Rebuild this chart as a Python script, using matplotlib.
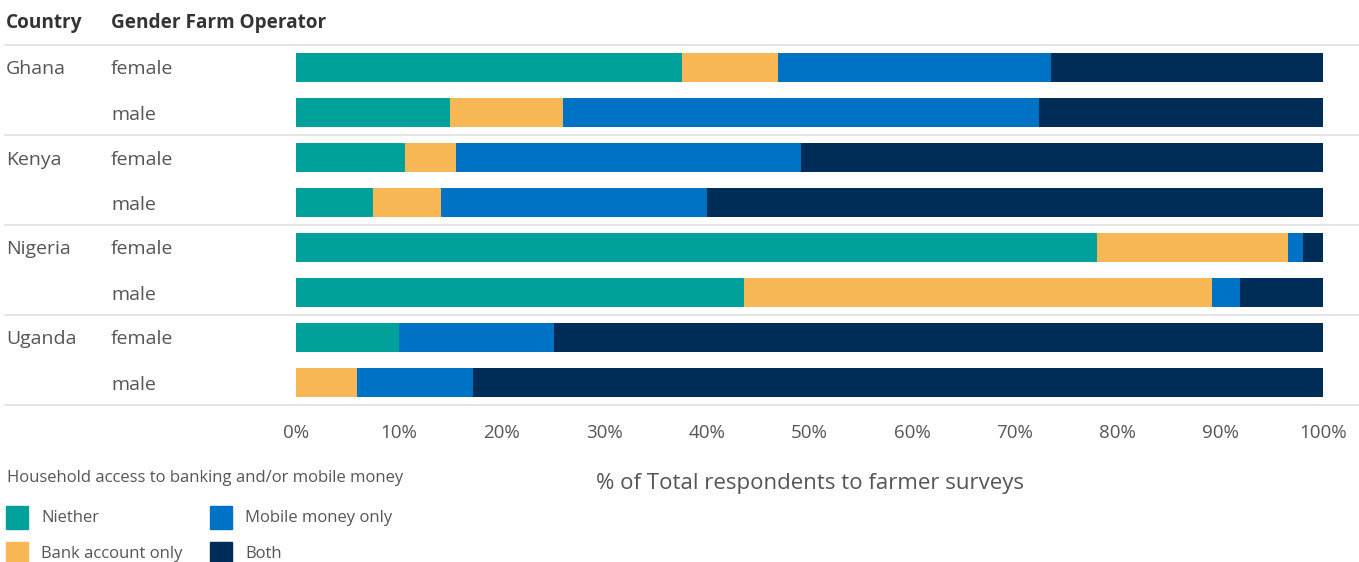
import matplotlib
matplotlib.use("Agg")
import matplotlib.pyplot as plt
from matplotlib.patches import Rectangle
from matplotlib.lines import Line2D
import numpy as np

plt.rcParams['font.family'] = ['Open Sans', 'DejaVu Sans']

countries = ["Ghana", "Ghana", "Kenya", "Kenya", "Nigeria", "Nigeria", "Uganda", "Uganda"]
genders = ["female", "male", "female", "male", "female", "male", "female", "male"]
series_names = ["Niether", "Bank account only", "Mobile money only", "Both"]
niether = [37.6, 15.0, 10.6, 7.5, 78.0, 43.6, 10.0, 0.0]
bank = [9.3, 11.0, 5.0, 6.6, 18.6, 45.6, 0.0, 5.9]
mobile = [26.6, 46.3, 33.6, 25.9, 1.5, 2.7, 15.1, 11.3]
both = [26.5, 27.7, 50.8, 60.0, 1.9, 8.1, 74.9, 82.8]
colors = ["#00A19A", "#F7B754", "#0072C6", "#002D57"]
xticks = [0, 10, 20, 30, 40, 50, 60, 70, 80, 90, 100]

W, H = 1359, 562
fig = plt.figure(figsize=(W / 100, H / 100), dpi=100)
ax = fig.add_axes([296 / W, 1 - 405 / H, 1027 / W, 360 / H])

y = np.arange(len(countries)) + 0.5
left = np.zeros(len(countries))
for vals, c, name in zip([niether, bank, mobile, both], colors, series_names):
    ax.barh(y, vals, left=left, height=0.645, color=c, label=name, linewidth=0)
    left = left + np.array(vals)

ax.set_xlim(0, 100)
ax.set_ylim(len(countries), 0)
ax.set_yticks([])
ax.set_xticks(xticks)
ax.set_xticklabels([f"{t}%" for t in xticks], fontsize=13.5, color="#555555")
ax.tick_params(axis='x', length=0, pad=14)
for s in ax.spines.values():
    s.set_visible(False)
ax.set_xlabel("% of Total respondents to farmer surveys", fontsize=16, color="#555555", labelpad=22)

# separators
for py in [45, 135, 225, 315, 405]:
    fig.add_artist(Line2D([5 / W, 1.0], [1 - py / H, 1 - py / H], color="#e2e2e2", lw=1.3))

# headers
fig.text(6 / W, 1 - 23 / H, "Country", fontsize=13.7, fontweight="bold", color="#333333", va="center")
fig.text(111 / W, 1 - 23 / H, "Gender Farm Operator", fontsize=13.7, fontweight="bold", color="#333333", va="center")

# row labels
for i, (c, g) in enumerate(zip(countries, genders)):
    py = 45 + 45 * i + 24.5
    if i == 0 or countries[i - 1] != c:
        fig.text(6 / W, 1 - py / H, c, fontsize=14, color="#555555", va="center")
    fig.text(111 / W, 1 - py / H, g, fontsize=14, color="#555555", va="center")

# legend
fig.text(7 / W, 1 - 478 / H, "Household access to banking and/or mobile money", fontsize=12, color="#555555", va="center")
leg_pos = [(6, 517), (6, 553), (210, 517), (210, 553)]
for (lx, ly), c, name in zip(leg_pos, colors, series_names):
    fig.add_artist(Rectangle((lx / W, 1 - (ly + 11.5) / H), 22 / W, 23 / H, color=c, transform=fig.transFigure))
    fig.text((lx + 35) / W, 1 - (ly + 1.5) / H, name, fontsize=12, color="#555555", va="center")

fig.savefig("out.png", dpi=100)
